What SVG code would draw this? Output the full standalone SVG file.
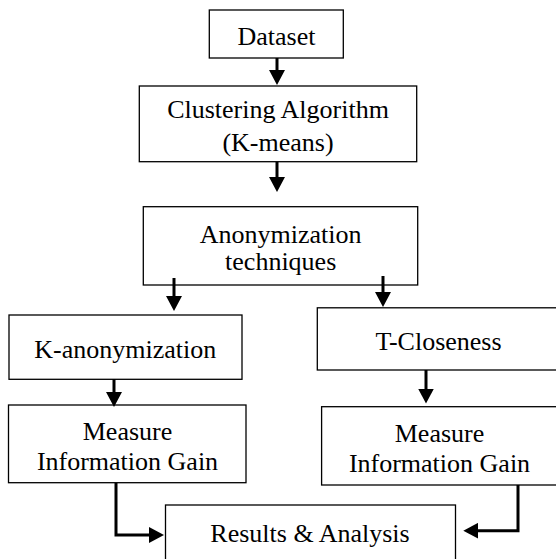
<svg xmlns="http://www.w3.org/2000/svg" width="556" height="559" viewBox="0 0 556 559">
<style>
.box{fill:#fff;stroke:#000;stroke-width:1.3}
.lbl{font-family:"Liberation Serif","Times New Roman",serif;font-size:26px;fill:#000;text-anchor:middle}
.conn{fill:none;stroke:#000;stroke-width:3;marker-end:url(#ah)}
</style>
<defs>
<marker id="ah" markerUnits="userSpaceOnUse" markerWidth="15" markerHeight="16" refX="11" refY="8" orient="auto">
<path d="M0,0 L15,8 L0,16 z" fill="#000"/>
</marker>
</defs>
<rect width="556" height="559" fill="#fff"/>
<g id="dataset"><rect class="box" x="209.3" y="10" width="134" height="48"/><text class="lbl" x="276.5" y="45">Dataset</text></g>
<g id="clustering"><rect class="box" x="139.3" y="86" width="277.4" height="75.7"/><text class="lbl" x="278" y="118.3">Clustering Algorithm</text><text class="lbl" x="278" y="150.7">(K-means)</text></g>
<g id="anonymization"><rect class="box" x="143.3" y="206.7" width="274.4" height="78.3"/><text class="lbl" x="280.7" y="243.3">Anonymization</text><text class="lbl" x="280.7" y="270">techniques</text></g>
<g id="kanon"><rect class="box" x="9" y="315" width="233" height="64.3"/><text class="lbl" x="125.3" y="357.7">K-anonymization</text></g>
<g id="tclose"><rect class="box" x="317.3" y="307.8" width="245" height="62.2"/><text class="lbl" x="438.5" y="350">T-Closeness</text></g>
<g id="measureL"><rect class="box" x="8.5" y="405" width="237.5" height="77.7"/><text class="lbl" x="127.5" y="440">Measure</text><text class="lbl" x="127.5" y="470">Information Gain</text></g>
<g id="measureR"><rect class="box" x="321.6" y="406.7" width="245" height="78.3"/><text class="lbl" x="439.5" y="441.7">Measure</text><text class="lbl" x="439.5" y="471.7">Information Gain</text></g>
<g id="results"><rect class="box" x="165.5" y="505" width="290" height="70"/><text class="lbl" x="310" y="541.7">Results &amp; Analysis</text></g>
<g id="connectors">
<path class="conn" d="M277,58 V81"/>
<path class="conn" d="M277,162 V188"/>
<path class="conn" d="M174,278 V307"/>
<path class="conn" d="M383,276 V303"/>
<path class="conn" d="M114,379 V403"/>
<path class="conn" d="M426,370 V399.5"/>
<path class="conn" d="M116,483 V535 H160"/>
<path class="conn" d="M518,485 V530.7 H467.3"/>
</g>
</svg>
